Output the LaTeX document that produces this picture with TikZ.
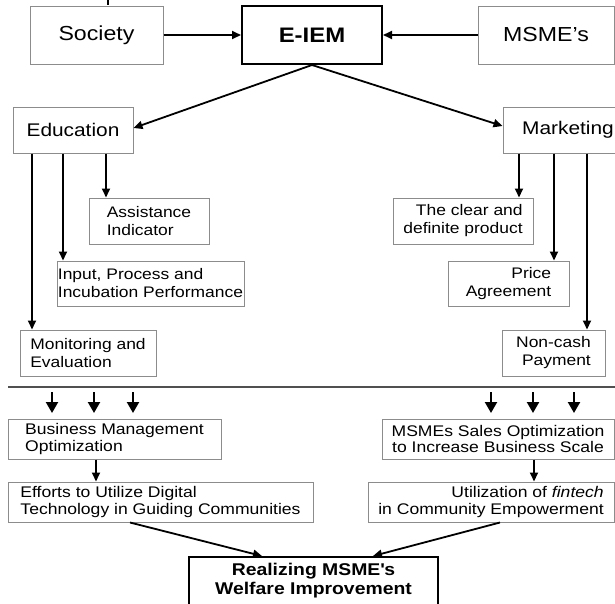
\documentclass[tikz,border=0pt]{standalone}
\usepackage{fontspec}
\setmainfont{Liberation Sans}[FakeStretch=1.14]
\usetikzlibrary{arrows.meta}
\definecolor{boxgray}{HTML}{8C8C8C}
\definecolor{sepgray}{HTML}{505050}
\tikzset{
  gbox/.style={draw=boxgray, line width=1pt, inner sep=0pt, fill=white},
  bbox/.style={draw=black, line width=2pt, inner sep=0pt, fill=white, font=\bfseries},
  bigfont/.style={font=\fontsize{20.3}{24}\selectfont},
  midfont/.style={font=\fontsize{18.3}{22}\selectfont},
  smallfont/.style={font=\fontsize{15.3}{18}\selectfont},
  lowfont/.style={font=\fontsize{15.4}{16.6}\selectfont},
  arr/.style={line width=1.8pt, -{Triangle[length=9pt,width=8pt]}},
  bigarr/.style={line width=2.2pt, -{Triangle[length=11pt,width=12pt]}},
}
\begin{document}
\begin{tikzpicture}[x=1pt,y=-1pt]
\useasboundingbox (0,0) rectangle (615,603);
% top row
\node[gbox, bigfont, minimum width=133pt, minimum height=58pt] (soc) at (96.5,35) {Society};
\node[bbox, font=\bfseries\fontsize{21}{24}\selectfont, minimum width=140pt, minimum height=58pt] (eiem) at (312,35) {E-IEM};
\node[gbox, bigfont, minimum width=136pt, minimum height=58pt] (msme) at (546,35) {MSME’s};
% second row
\node[gbox, midfont, minimum width=120pt, minimum height=46pt] (edu) at (73,130) {Education};
\node[gbox, midfont, minimum width=130pt, minimum height=46pt] (mkt) at (568,130) {Marketing};
% left branch
\node[gbox, smallfont, align=left, minimum width=120pt, minimum height=46pt] (assist) at (149,221) {Assistance\\Indicator};
\node[gbox, smallfont, align=left, minimum width=187pt, minimum height=45pt] (input) at (150.5,283.5) {Input, Process and\\Incubation Performance};
\node[gbox, smallfont, align=left, minimum width=136pt, minimum height=46pt] (monit) at (88,353) {Monitoring and\\Evaluation};
% right branch
\node[gbox, smallfont, align=right, minimum width=140pt, minimum height=46pt] (clear) at (463,221) {The clear and\\definite product};
\node[gbox, smallfont, align=right, minimum width=121pt, minimum height=45pt] (price) at (508.5,283.5) {Price\\Agreement};
\node[gbox, smallfont, align=right, minimum width=103pt, minimum height=46pt] (noncash) at (553.5,353) {Non-cash\\Payment};
% lower boxes
\node[gbox, lowfont, align=left, minimum width=213pt, minimum height=40pt] (bmo) at (114.5,439) {Business Management\\Optimization};
\node[gbox, lowfont, align=center, minimum width=232pt, minimum height=40pt] (msales) at (498,439) {MSMEs Sales Optimization\\to Increase Business Scale};
\node[gbox, lowfont, align=left, minimum width=305pt, minimum height=40pt] (efforts) at (160.5,502) {Efforts to Utilize Digital\\Technology in Guiding Communities};
\node[gbox, lowfont, align=right, minimum width=246pt, minimum height=40pt] (util) at (491,502) {Utilization of \textit{fintech}\\in Community Empowerment};
% final box
\node[bbox, minimum width=249pt, minimum height=56pt] (real) at (313.5,585) {};
\node[inner sep=0pt, font=\bfseries\fontsize{17}{19}\selectfont, align=center] (realtxt) at (313.5,580.5) {Realizing MSME\textquotesingle s\\Welfare Improvement};

% helper x coordinates
\coordinate (xa) at (32,0);
\coordinate (xb) at (63,0);
\coordinate (xc) at (106,0);
\coordinate (xd) at (519,0);
\coordinate (xe) at (554,0);
\coordinate (xf) at (587,0);
\coordinate (xg) at (96,0);
\coordinate (xh) at (534,0);
% top connectors
\draw[arr] (soc.east) -- (eiem.west);
\draw[arr] (msme.west) -- (eiem.east);
\draw[arr] (eiem.south) -- ([yshift=2pt]edu.east);
\draw[arr] (eiem.south) -- ([yshift=4pt]mkt.west);
% education branch
\draw[arr] (edu.south -| xa) -- (monit.north -| xa);
\draw[arr] (edu.south -| xb) -- (input.north -| xb);
\draw[arr] (edu.south -| xc) -- (assist.north -| xc);
% marketing branch
\draw[arr] (mkt.south -| xd) -- (clear.north -| xd);
\draw[arr] (mkt.south -| xe) -- (price.north -| xe);
\draw[arr] (mkt.south -| xf) -- (noncash.north -| xf);
% separator
\coordinate (sepL) at (8,387);
\coordinate (sepR) at (615,387);
\draw[sepgray, line width=2pt] (sepL) -- (sepR);
% arrows under separator
\foreach \x/\n in {52/l1, 94/l2, 133/l3, 491/r1, 533/r2, 574/r3} {
  \coordinate (\n t) at (\x,392);
  \coordinate (\n b) at (\x,413);
  \draw[bigarr] (\n t) -- (\n b);
}
% lower connectors
\draw[arr] (bmo.south -| xg) -- (efforts.north -| xg);
\draw[arr] (msales.south -| xh) -- (util.north -| xh);
\draw[arr] ([xshift=-30.5pt]efforts.south) -- ([xshift=-51.5pt]real.north);
\draw[arr] ([xshift=9pt]util.south) -- ([xshift=59.5pt]real.north);
% small mark at top edge
\coordinate (mkA) at (108,0);
\coordinate (mkB) at (108,5);
\draw[line width=2pt] (mkA) -- (mkB);
\end{tikzpicture}
\end{document}
